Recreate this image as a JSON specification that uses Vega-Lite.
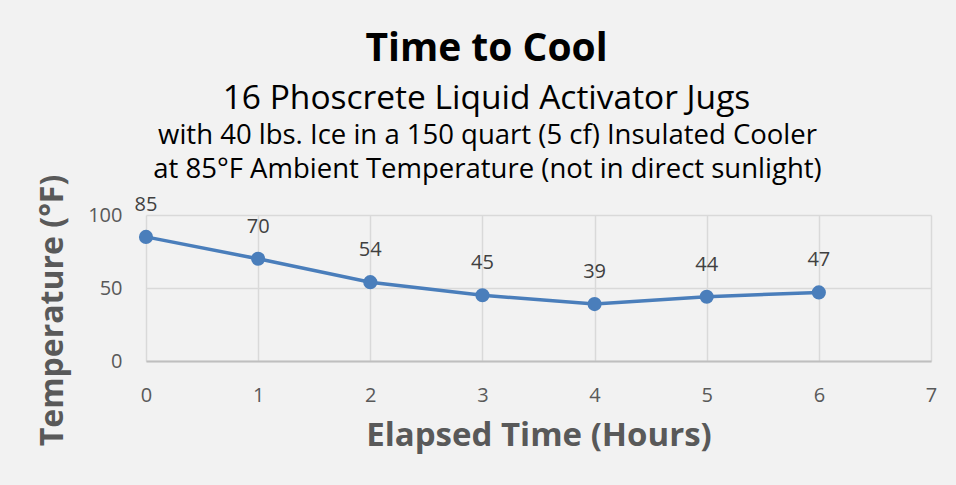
{
  "$schema": "https://vega.github.io/schema/vega-lite/v6.json",
  "width": 785,
  "height": 146,
  "autosize": {"type": "none"},
  "padding": {"left": 146, "top": 215, "right": 25, "bottom": 124},
  "background": "#f2f2f2",
  "config": {
    "font": "Open Sans",
    "view": {"stroke": null},
    "axis": {
      "labelFont": "Open Sans",
      "labelFontSize": 20,
      "labelColor": "#595959",
      "titleFont": "Open Sans",
      "titleColor": "#595959",
      "titleFontWeight": "bold",
      "gridColor": "#d9d9d9",
      "gridWidth": 1.5,
      "ticks": false,
      "labelFlush": false
    }
  },
  "title": {
    "text": "Time to Cool",
    "subtitle": "16 Phoscrete Liquid Activator Jugs",
    "anchor": "middle",
    "frame": "group",
    "dx": -52,
    "fontSize": 39,
    "fontWeight": "bold",
    "color": "#000000",
    "subtitleFontSize": 33.5,
    "subtitleColor": "#000000",
    "subtitlePadding": 14,
    "offset": 6
  },
  "data": {
    "values": [
      {"hours": 0, "temp": 85},
      {"hours": 1, "temp": 70},
      {"hours": 2, "temp": 54},
      {"hours": 3, "temp": 45},
      {"hours": 4, "temp": 39},
      {"hours": 5, "temp": 44},
      {"hours": 6, "temp": 47}
    ]
  },
  "resolve": {"axis": {"x": "independent"}},
  "layer": [
    {
      "mark": {"type": "line", "color": "#4a7ebb", "strokeWidth": 3.5, "point": {"filled": true, "size": 200, "color": "#4a7ebb", "opacity": 1}},
      "encoding": {
        "x": {
          "field": "hours", "type": "quantitative",
          "scale": {"domain": [0, 7], "nice": false},
          "axis": {
            "orient": "bottom",
            "values": [0, 1, 2, 3, 4, 5, 6, 7],
            "labelPadding": 24,
            "domainColor": "#bfbfbf",
            "domainWidth": 2,
            "title": "Elapsed Time (Hours)",
            "titleFontSize": 33,
            "titlePadding": 14
          }
        },
        "y": {
          "field": "temp", "type": "quantitative",
          "scale": {"domain": [0, 100], "nice": false},
          "axis": {
            "values": [0, 50, 100],
            "labelPadding": 24,
            "domain": false,
            "title": "Temperature (°F)",
            "titleFontSize": 32,
            "titleY": 95,
            "titlePadding": 18
          }
        }
      }
    },
    {
      "mark": {"type": "text", "fontSize": 20, "color": "#404040", "dy": -32, "font": "Open Sans"},
      "encoding": {
        "x": {
          "field": "hours", "type": "quantitative",
          "axis": {
            "orient": "top",
            "labels": false,
            "domain": false,
            "grid": false,
            "title": ["with 40 lbs. Ice in a 150 quart (5 cf) Insulated Cooler", "at 85°F Ambient Temperature (not in direct sunlight)"],
            "titleFontWeight": "normal",
            "titleColor": "#000000",
            "titleFontSize": 27.5,
            "titleLineHeight": 34,
            "titleX": 341,
            "titlePadding": 32
          }
        },
        "y": {"field": "temp", "type": "quantitative"},
        "text": {"field": "temp", "type": "quantitative"}
      }
    }
  ]
}
